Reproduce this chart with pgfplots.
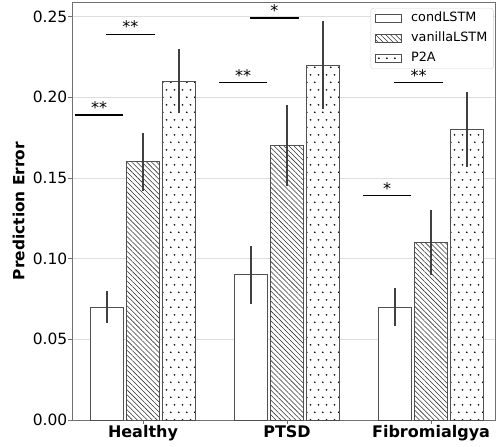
\documentclass[border=0pt]{standalone}
\usepackage{pgfplots}
\pgfplotsset{compat=1.18}
\usepackage{fontspec}
\setmainfont{DejaVu Sans}
\usetikzlibrary{patterns, patterns.meta}

\definecolor{edge}{HTML}{505050}
\definecolor{spine}{HTML}{707070}
\definecolor{gridc}{HTML}{DDDDDD}
\definecolor{errc}{HTML}{404040}

% staggered dots, as matplotlib's '.' hatch
\pgfdeclarepatternformonly{p2adots}{\pgfpointorigin}{\pgfqpoint{7.7pt}{15.4pt}}{\pgfqpoint{7.7pt}{15.4pt}}{%
  \pgfpathcircle{\pgfqpoint{1.9pt}{3.85pt}}{0.95pt}%
  \pgfpathcircle{\pgfqpoint{5.75pt}{11.55pt}}{0.95pt}%
  \pgfusepath{fill}}

\pgfplotsset{
  mybar/.style={ybar, bar width=0.23, draw=edge, line width=0.8pt, fill=white,
    legend image code/.code={\draw[##1, sharp corners] (0pt,-4pt) rectangle (26.5pt,4pt);}},
  errb/.style={draw=none, mark=none, forget plot,
    error bars/y dir=both, error bars/y explicit, error bars/error mark=none,
    error bars/error bar style={errc, line width=1.2pt}},
  sig/.style={black, line width=1.3pt, forget plot},
}

\begin{document}
\begin{tikzpicture}
\begin{axis}[
  scale only axis, width=423pt, height=418pt,
  xmin=-0.493, xmax=2.444, ymin=0, ymax=0.259,
  xtick={0,1,2}, xticklabels={Healthy,PTSD,Fibromialgya},
  xticklabel style={font=\fontsize{16}{18}\selectfont\bfseries, anchor=base, yshift=-13.5pt},
  ytick={0,0.05,0.1,0.15,0.2,0.25},
  yticklabel style={font=\fontsize{15.5}{18}\selectfont, inner xsep=1pt,
    /pgf/number format/fixed, /pgf/number format/fixed zerofill,
    /pgf/number format/precision=2},
  /pgf/number format/assume math mode=true,
  ymajorgrids, grid style={gridc, line width=0.8pt},
  axis line style={spine, line width=0.8pt},
  tick style={spine, line width=0.8pt},
  tick align=outside, major tick length=3.5pt,
  xtick pos=bottom, ytick pos=left,
  ylabel={Prediction Error},
  ylabel style={font=\fontsize{15.4}{18}\selectfont\bfseries,
    at={(axis description cs:-0.1128,0.5)}, anchor=base},
  legend style={at={(axis description cs:1,1)}, anchor=north east,
    xshift=-1.5pt, yshift=-6.3pt,
    draw=gray!35, rounded corners=2pt, font=\fontsize{12.8}{15}\selectfont,
    row sep=6pt, inner xsep=4pt, inner ysep=3pt,
    nodes={inner xsep=2pt, inner ysep=1pt, text height=9.5pt, text depth=2.5pt},
    /tikz/every odd column/.append style={column sep=7pt}},
  legend cell align=left,
]
\addplot[mybar, bar shift=-0.25] coordinates {(0,0.07) (1,0.09) (2,0.07)};
\addlegendentry{condLSTM}
\addplot[mybar, bar shift=0,
  postaction={pattern={Lines[angle=-45,distance=3.5pt,line width=0.55pt]}, pattern color=black!80}]
  coordinates {(0,0.16) (1,0.17) (2,0.11)};
\addlegendentry{vanillaLSTM}
\addplot[mybar, bar shift=0.25,
  postaction={pattern=p2adots, pattern color=black}]
  coordinates {(0,0.21) (1,0.22) (2,0.18)};
\addlegendentry{P2A}

% error bars
\addplot[errb] coordinates {
  (-0.25,0.07) +- (0,0.010) (0.75,0.09) +- (0,0.018) (1.75,0.07) +- (0,0.012)};
\addplot[errb] coordinates {
  (0,0.16) +- (0,0.018) (1,0.17) +- (0,0.025) (2,0.11) +- (0,0.020)};
\addplot[errb] coordinates {
  (0.25,0.21) +- (0,0.020) (1.25,0.22) +- (0,0.027) (2.25,0.18) +- (0,0.023)};

% significance brackets
\addplot[sig] coordinates {(-0.47,0.189) (-0.14,0.189)};
\addplot[sig] coordinates {(-0.255,0.239) (0.082,0.239)};
\addplot[sig] coordinates {(0.53,0.209) (0.86,0.209)};
\addplot[sig] coordinates {(0.745,0.249) (1.082,0.249)};
\addplot[sig] coordinates {(1.53,0.139) (1.86,0.139)};
\addplot[sig] coordinates {(1.745,0.209) (2.082,0.209)};
\begin{scope}[every node/.style={anchor=base, inner sep=0pt, yshift=1.5pt, font=\fontsize{16}{18}\selectfont}]
\node at (axis cs:-0.305,0.189) {**};
\node at (axis cs:-0.087,0.239) {**};
\node at (axis cs:0.695,0.209) {**};
\node at (axis cs:0.913,0.249) {*};
\node at (axis cs:1.695,0.139) {*};
\node at (axis cs:1.913,0.209) {**};
\end{scope}
\end{axis}
\pgfresetboundingbox
\path ([shift={(-72pt,-26pt)}]current axis.south west) rectangle ([shift={(1pt,2pt)}]current axis.north east);
\end{tikzpicture}
\end{document}
